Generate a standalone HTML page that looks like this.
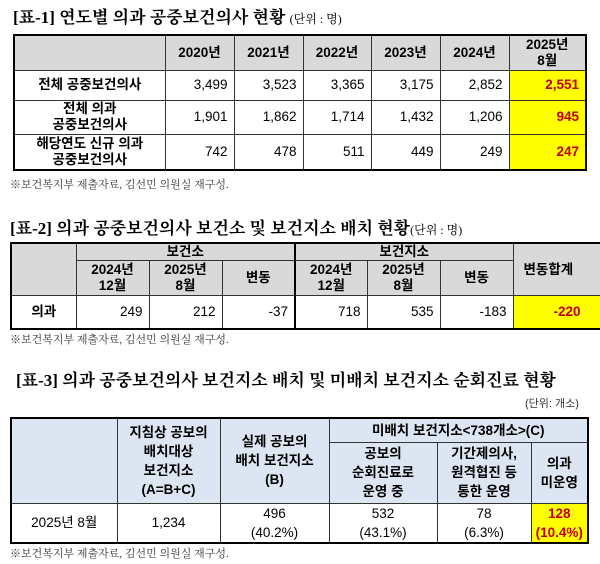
<!DOCTYPE html>
<html><head><meta charset="utf-8"><style>
body{margin:0;width:600px;height:564px;background:#fff;position:relative;overflow:hidden;font-family:"Liberation Sans","Noto Sans CJK KR",sans-serif;color:#000}
.t{position:absolute;font-family:"Liberation Serif","Noto Serif CJK KR",serif;font-size:17px;font-weight:bold;white-space:nowrap;letter-spacing:0px}
.t small{font-size:12px;font-weight:normal}
.fn{position:absolute;font-family:"Liberation Serif","Noto Serif CJK KR",serif;font-size:11px;color:#333;white-space:nowrap}
table{position:absolute;border-collapse:collapse;table-layout:fixed;border:2px solid #000}
td{border:1px solid #333;font-size:13.5px;padding:0 6px;line-height:16px}
.h td{background:#d9d9d9;font-weight:bold;text-align:center}
.b{font-weight:bold;text-align:center}
.r{text-align:right}
.y{background:#ffff00;color:#c00000;font-weight:bold;text-align:right}
.bl td{background:#dce6f2;font-weight:bold;text-align:center}
.c{text-align:center}
.t3 td{line-height:19px}
</style></head><body>
<div class="t" style="left:13px;top:3px">[표-1] 연도별 의과 공중보건의사 현황 <small>(단위 : 명)</small></div>
<table style="left:13px;top:34px;width:572px">
<colgroup><col style="width:151px"><col style="width:69px"><col style="width:69px"><col style="width:68px"><col style="width:69px"><col style="width:69px"><col style="width:77px"></colgroup>
<tr class="h" style="height:35px"><td></td><td>2020년</td><td>2021년</td><td>2022년</td><td>2023년</td><td>2024년</td><td>2025년<br>8월</td></tr>
<tr style="height:30px"><td class="b">전체 공중보건의사</td><td class="r">3,499</td><td class="r">3,523</td><td class="r">3,365</td><td class="r">3,175</td><td class="r">2,852</td><td class="y">2,551</td></tr>
<tr style="height:34px"><td class="b">전체 의과<br>공중보건의사</td><td class="r">1,901</td><td class="r">1,862</td><td class="r">1,714</td><td class="r">1,432</td><td class="r">1,206</td><td class="y">945</td></tr>
<tr style="height:36px"><td class="b">해당연도 신규 의과<br>공중보건의사</td><td class="r">742</td><td class="r">478</td><td class="r">511</td><td class="r">449</td><td class="r">249</td><td class="y">247</td></tr>
</table>
<div class="fn" style="left:10px;top:176px">※보건복지부 제출자료, 김선민 의원실 재구성.</div>

<div class="t" style="left:10px;top:214px">[표-2] 의과 공중보건의사 보건소 및 보건지소 배치 현황<small>(단위 : 명)</small></div>
<table style="left:10px;top:242px;width:600px">
<colgroup><col style="width:65px"><col style="width:73px"><col style="width:73px"><col style="width:73px"><col style="width:72px"><col style="width:73px"><col style="width:73px"><col style="width:98px"></colgroup>
<tr class="h" style="height:17px"><td rowspan="2"></td><td colspan="3">보건소</td><td colspan="3" style="border-left:2px solid #000">보건지소</td><td rowspan="2" style="text-align:left;padding-left:10px">변동합계</td></tr>
<tr class="h" style="height:35px"><td>2024년<br>12월</td><td>2025년<br>8월</td><td>변동</td><td style="border-left:2px solid #000">2024년<br>12월</td><td>2025년<br>8월</td><td>변동</td></tr>
<tr style="height:33px"><td class="b">의과</td><td class="r">249</td><td class="r">212</td><td class="r">-37</td><td class="r" style="border-left:2px solid #000">718</td><td class="r">535</td><td class="r">-183</td><td class="y" style="text-align:left;padding-left:40px">-220</td></tr>
</table>
<div class="fn" style="left:10px;top:331px">※보건복지부 제출자료, 김선민 의원실 재구성.</div>

<div class="t" style="left:16px;top:366px">[표-3] 의과 공중보건의사 보건지소 배치 및 미배치 보건지소 순회진료 현황</div>
<div class="fn" style="left:525px;top:395px;font-family:'Liberation Sans','Noto Sans CJK KR',sans-serif;font-size:11px">(단위: 개소)</div>
<table class="t3" style="left:10px;top:417px;width:577px">
<colgroup><col style="width:106px"><col style="width:103px"><col style="width:109px"><col style="width:108px"><col style="width:94px"><col style="width:57px"></colgroup>
<tr class="bl" style="height:24px"><td rowspan="2"></td><td rowspan="2">지침상 공보의<br>배치대상<br>보건지소<br>(A=B+C)</td><td rowspan="2">실제 공보의<br>배치 보건지소<br>(B)</td><td colspan="3">미배치 보건지소&lt;738개소&gt;(C)</td></tr>
<tr class="bl" style="height:61px"><td>공보의<br>순회진료로<br>운영 중</td><td>기간제의사,<br>원격협진 등<br>통한 운영</td><td style="padding:0">의과<br>미운영</td></tr>
<tr style="height:39px"><td class="c">2025년 8월</td><td class="c">1,234</td><td class="c">496<br>(40.2%)</td><td class="c">532<br>(43.1%)</td><td class="c">78<br>(6.3%)</td><td class="y" style="text-align:center;padding:0">128<br>(10.4%)</td></tr>
</table>
<div class="fn" style="left:10px;top:545px">※보건복지부 제출자료, 김선민 의원실 재구성.</div>
</body></html>
